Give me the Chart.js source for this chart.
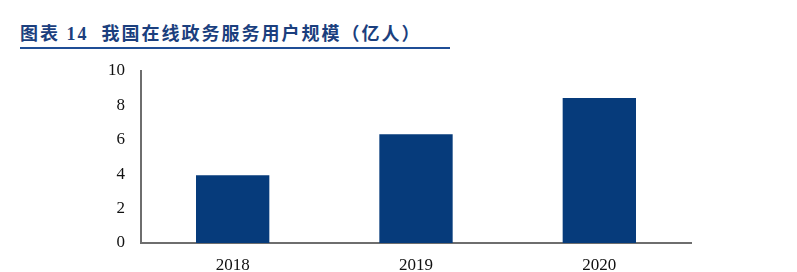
<!DOCTYPE html>
<html>
<head>
<meta charset="utf-8">
<script src="https://cdn.jsdelivr.net/npm/chart.js@4"></script>
<style>
  body { margin: 0; background: #fff; }
  #wrap { position: relative; width: 797px; height: 272px; }
  #title {
    position: absolute; left: 20px; top: 23px; width: 430px;
    font-family: "Liberation Serif", "Noto Sans CJK SC", serif;
    font-weight: bold; font-size: 18px; letter-spacing: 2px; color: #1b3f7e;
    border-bottom: 2px solid #1f4e96; padding-bottom: 1px; line-height: 23px;
    white-space: nowrap;
  }
  #box { position: absolute; left: 0; top: 0; width: 797px; height: 272px; }
</style>
</head>
<body>
<div id="wrap">
  <div id="title">图表 14&nbsp; 我国在线政务服务用户规模（亿人）</div>
  <div id="box"><canvas id="c"></canvas></div>
</div>
<script>
// data
const years = ['2018', '2019', '2020'];
const users = [3.94, 6.32, 8.43];

const axisFont = { family: 'Liberation Serif', size: 17 };

new Chart(document.getElementById('c'), {
    type: 'bar',
    data: {
        labels: years,
        datasets: [{
            data: users,
            backgroundColor: '#063b7b',
            barPercentage: 0.4,
            categoryPercentage: 1
        }]
    },
    options: {
        responsive: true,
        maintainAspectRatio: false,
        animation: false,
        layout: { padding: { top: 71, right: 106, left: 0, bottom: 0 } },
        plugins: { legend: { display: false }, tooltip: { enabled: false } },
        scales: {
            x: {
                grid: { display: false },
                border: { color: '#6e6e6e', width: 2 },
                ticks: { color: '#111', font: axisFont, padding: 4 },
                afterFit: s => { s.height = 29; }
            },
            y: {
                min: 0, max: 10,
                grid: { display: false },
                border: { color: '#6e6e6e', width: 2 },
                ticks: { stepSize: 2, color: '#111', font: axisFont, padding: 8 },
                afterFit: s => { s.width = 141; }
            }
        }
    }
});
</script>
</body>
</html>
